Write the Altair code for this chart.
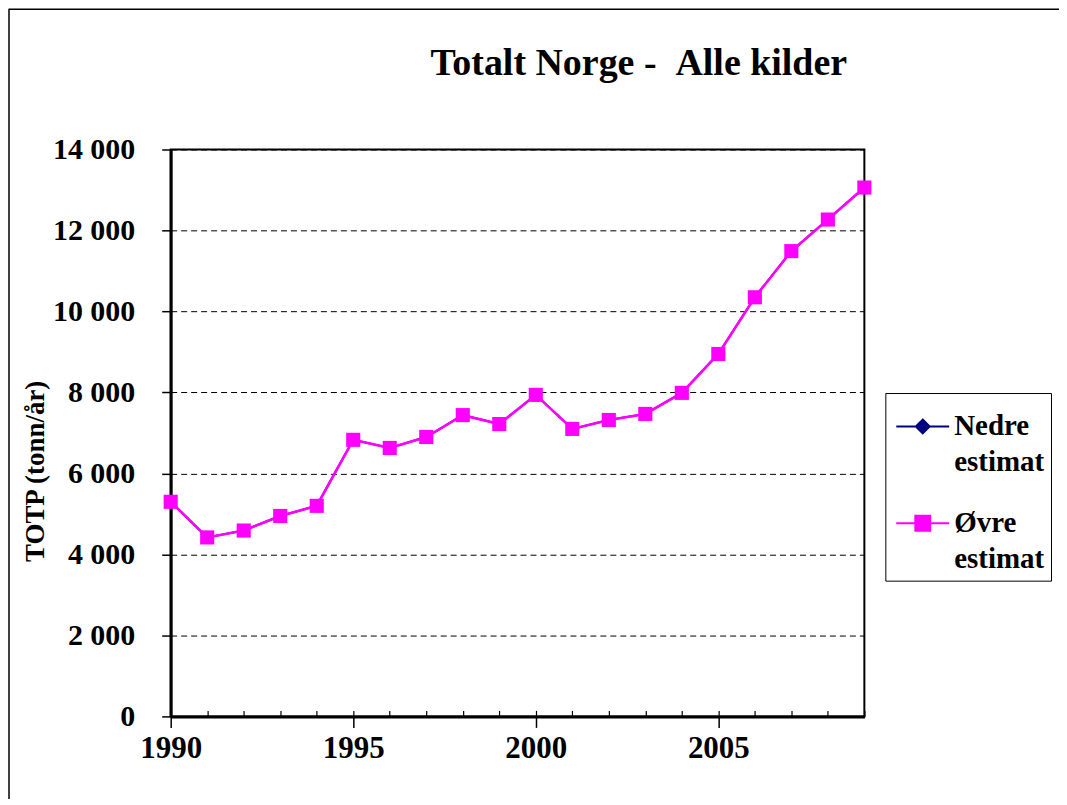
import altair as alt
import pandas as pd

years = list(range(1990, 2010))
ovre = [5300, 4420, 4590, 4950, 5200, 6830, 6630, 6900, 7440, 7220,
        7940, 7100, 7320, 7470, 7990, 8950, 10350, 11490, 12270, 13060]
nedre = [5300, 4420, 4590, 4950, 5200, 6830, 6630, 6900, 7440, 7220,
         7940, 7100, 7320, 7470, 7990, 8950, 10350, 11490, 12270, 13060]
series_names = ["Nedre estimat", "Øvre estimat"]
series_colors = ["#000080", "#FF00FF"]
y_ticks = [0, 2000, 4000, 6000, 8000, 10000, 12000, 14000]
x_labels = [1990, 1995, 2000, 2005]
title_text = "Totalt Norge - \u00a0Alle kilder"

df = pd.DataFrame({
    "year": years * 2,
    "value": nedre + ovre,
    "series": [series_names[0]] * len(years) + [series_names[1]] * len(years),
})

FONT = "Liberation Serif"
W, H = 695, 568

xscale = alt.Scale(domain=[1990, 2009], nice=False, zero=False)
yscale = alt.Scale(domain=[0, 14000], nice=False)

base = alt.Chart(df)

x_bottom = alt.X("year:Q", scale=xscale, title=None, axis=alt.Axis(
    values=x_labels, format="d", tickSize=11, tickColor="black", tickWidth=1.5,
    domainColor="black", domainWidth=3, labelFont=FONT, labelFontSize=31,
    labelFontWeight="bold", labelColor="black", labelPadding=6, grid=False,
    labelFlush=False, labelOverlap=False))
x_topinner = alt.X("year:Q", scale=xscale, title=None, axis=alt.Axis(
    orient="top", offset=-H, values=years, tickSize=6, tickColor="black",
    tickWidth=1.2, domain=False, labels=False, grid=False))
x_none = alt.X("year:Q", scale=xscale, axis=None)

y_main = alt.Y("value:Q", scale=yscale, title="TOTP (tonn/år)", axis=alt.Axis(
    values=y_ticks, labelExpr="replace(format(datum.value, ','), ',', ' ')",
    tickSize=9, tickColor="black", tickWidth=1.5, domainColor="black",
    domainWidth=3, labelFont=FONT, labelFontSize=30, labelFontWeight="bold",
    labelColor="black", labelPadding=27, grid=True, gridColor="black",
    gridDash=[6, 4], gridWidth=1, gridOpacity=1,
    titleFont=FONT, titleFontSize=27, titleFontWeight="bold", titleColor="black",
    titleAngle=270, titleX=-135, titleY=322, titleAlign="center",
    titleBaseline="middle"))
y_none = alt.Y("value:Q", scale=yscale, axis=None)

nedre_line = base.transform_filter(alt.datum.series == series_names[0]).mark_line(
    color=series_colors[0], strokeWidth=2).encode(x=x_topinner, y=y_none)
nedre_pts = base.transform_filter(alt.datum.series == series_names[0]).mark_point(
    shape="diamond", filled=True, color=series_colors[0], size=120, opacity=1
).encode(x=x_none, y=y_none)
ovre_line = base.transform_filter(alt.datum.series == series_names[1]).mark_line(
    color=series_colors[1], strokeWidth=2.6).encode(x=x_bottom, y=y_main)
ovre_pts = base.transform_filter(alt.datum.series == series_names[1]).mark_point(
    shape="square", filled=True, color=series_colors[1], size=200, opacity=1
).encode(x=x_none, y=y_none)

sym_nedre = "M-0.85,0H1.15M0.15,-0.26L0.41,0L0.15,0.26L-0.11,0Z"
sym_ovre = "M-0.85,0H1.15M-0.13,-0.28H0.43V0.28H-0.13Z"
leg = alt.Legend(
    title=None, orient="none", legendX=716, legendY=244, padding=6,
    fillColor="white", strokeColor="black", labelFont=FONT, labelFontSize=29,
    labelFontWeight="bold", labelColor="black",
    labelExpr="split(datum.label, ' ')", labelLimit=300, labelOffset=8,
    symbolSize=2809, symbolStrokeWidth=2, rowPadding=18, symbolOpacity=1)
legend_layer = base.transform_filter("false").mark_point(
    filled=True, opacity=1).encode(
    x=x_none, y=y_none,
    fill=alt.Fill("series:N", scale=alt.Scale(domain=series_names, range=series_colors), legend=leg),
    stroke=alt.Stroke("series:N", scale=alt.Scale(domain=series_names, range=series_colors), legend=leg),
    shape=alt.Shape("series:N", scale=alt.Scale(domain=series_names, range=[sym_nedre, sym_ovre]), legend=leg),
)

frame_data = alt.Data(values=[{"k": 1}])
frame_left = alt.Chart(frame_data).mark_rule(color="black", strokeWidth=1.5).encode(
    x=alt.value(-162), y=alt.value(-141), y2=alt.value(660))
frame_top = alt.Chart(frame_data).mark_rule(color="black", strokeWidth=1.5).encode(
    y=alt.value(-140.5), x=alt.value(-162), x2=alt.value(900))

title_layer = alt.Chart(alt.Data(values=[{"t": title_text}])).mark_text(
    font=FONT, fontSize=38, fontWeight="bold", color="black",
    align="center", baseline="alphabetic").encode(
    text="t:N", x=alt.value(469), y=alt.value(-75))

chart = alt.layer(
    frame_left, frame_top, title_layer, nedre_line, nedre_pts, ovre_line,
    ovre_pts, legend_layer
).resolve_axis(x="independent", y="independent").properties(
    width=W, height=H, autosize="none",
    padding={"left": 163, "top": 141, "right": 195, "bottom": 82},
).configure(
    background="white", style={"guide-label": {"lineHeight": 36}}
).configure_view(stroke="black", strokeWidth=2)

chart.save("out.html", embed_options={"renderer": "svg", "actions": False})
